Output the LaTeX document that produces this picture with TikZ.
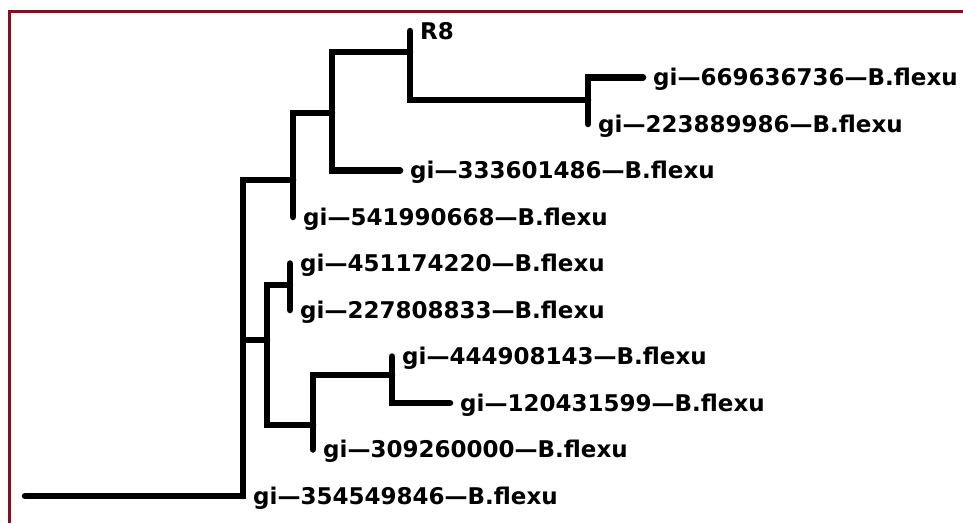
\documentclass[tikz,border=0pt]{standalone}
\usepackage{fontspec}
\setmainfont{DejaVu Sans}
\newfontfamily\lblfont{DejaVu Sans}[BoldFont={DejaVu Sans Bold}]
\definecolor{frame}{RGB}{128,16,34}
\begin{document}
\begin{tikzpicture}[x=1pt,y=-1pt,
  br/.style={line width=6.5pt, line cap=round, line join=miter},
  lab/.style={anchor=base west, inner sep=0pt, font=\lblfont\bfseries\fontsize{23}{23}\selectfont, xshift=10pt, yshift=-8.4pt}]
\useasboundingbox[fill=white] (0,0) rectangle (963,523);
% frame
\draw[frame, line width=3pt] (9.5,523) -- (9.5,11.5) -- (963,11.5);
% tree points
\coordinate (r)  at (25,496);
\coordinate (t0) at (410,31);
\coordinate (t1) at (643,77.5);
\coordinate (t2) at (588,124);
\coordinate (t3) at (400,170.5);
\coordinate (t4) at (293,217);
\coordinate (t5) at (290,263.5);
\coordinate (t6) at (290,310);
\coordinate (t7) at (392,356.5);
\coordinate (t8) at (450,403);
\coordinate (t9) at (313,449.5);
\coordinate (t10) at (243,496);
\coordinate (n2) at (293,180);
\coordinate (n3) at (267,340);
\coordinate (n4) at (332,113);
\coordinate (n5) at (410,52);
\coordinate (n6) at (588,100);
\coordinate (n7) at (290,285);
\coordinate (n8) at (313,425);
\coordinate (n9) at (392,375);
% branches
\draw[br] (r) -- (t10) |- (n2);
\draw[br] (t10) |- (n3);
\draw[br] (n4) -| (n2) |- (t4);
\draw[br] (n5) -| (n4) |- (t3);
\draw[br] (t0) -- (n5) |- (n6);
\draw[br] (t1) -| (n6) |- (t2);
\draw[br] (n7) -| (n3) |- (n8);
\draw[br] (t5) -- (n7) -- (t6);
\draw[br] (n9) -| (n8) |- (t9);
\draw[br] (t7) -- (n9) |- (t8);
% labels
\node[lab] (L0) at (t0) {R8};
\node[lab] (L1) at (t1) {gi—669636736—B.flexu};
\node[lab] (L2) at (t2) {gi—223889986—B.flexu};
\node[lab] (L3) at (t3) {gi—333601486—B.flexu};
\node[lab] (L4) at (t4) {gi—541990668—B.flexu};
\node[lab] (L5) at (t5) {gi—451174220—B.flexu};
\node[lab] (L6) at (t6) {gi—227808833—B.flexu};
\node[lab] (L7) at (t7) {gi—444908143—B.flexu};
\node[lab] (L8) at (t8) {gi—120431599—B.flexu};
\node[lab] (L9) at (t9) {gi—309260000—B.flexu};
\node[lab] (L10) at (t10) {gi—354549846—B.flexu};
\end{tikzpicture}
\end{document}
